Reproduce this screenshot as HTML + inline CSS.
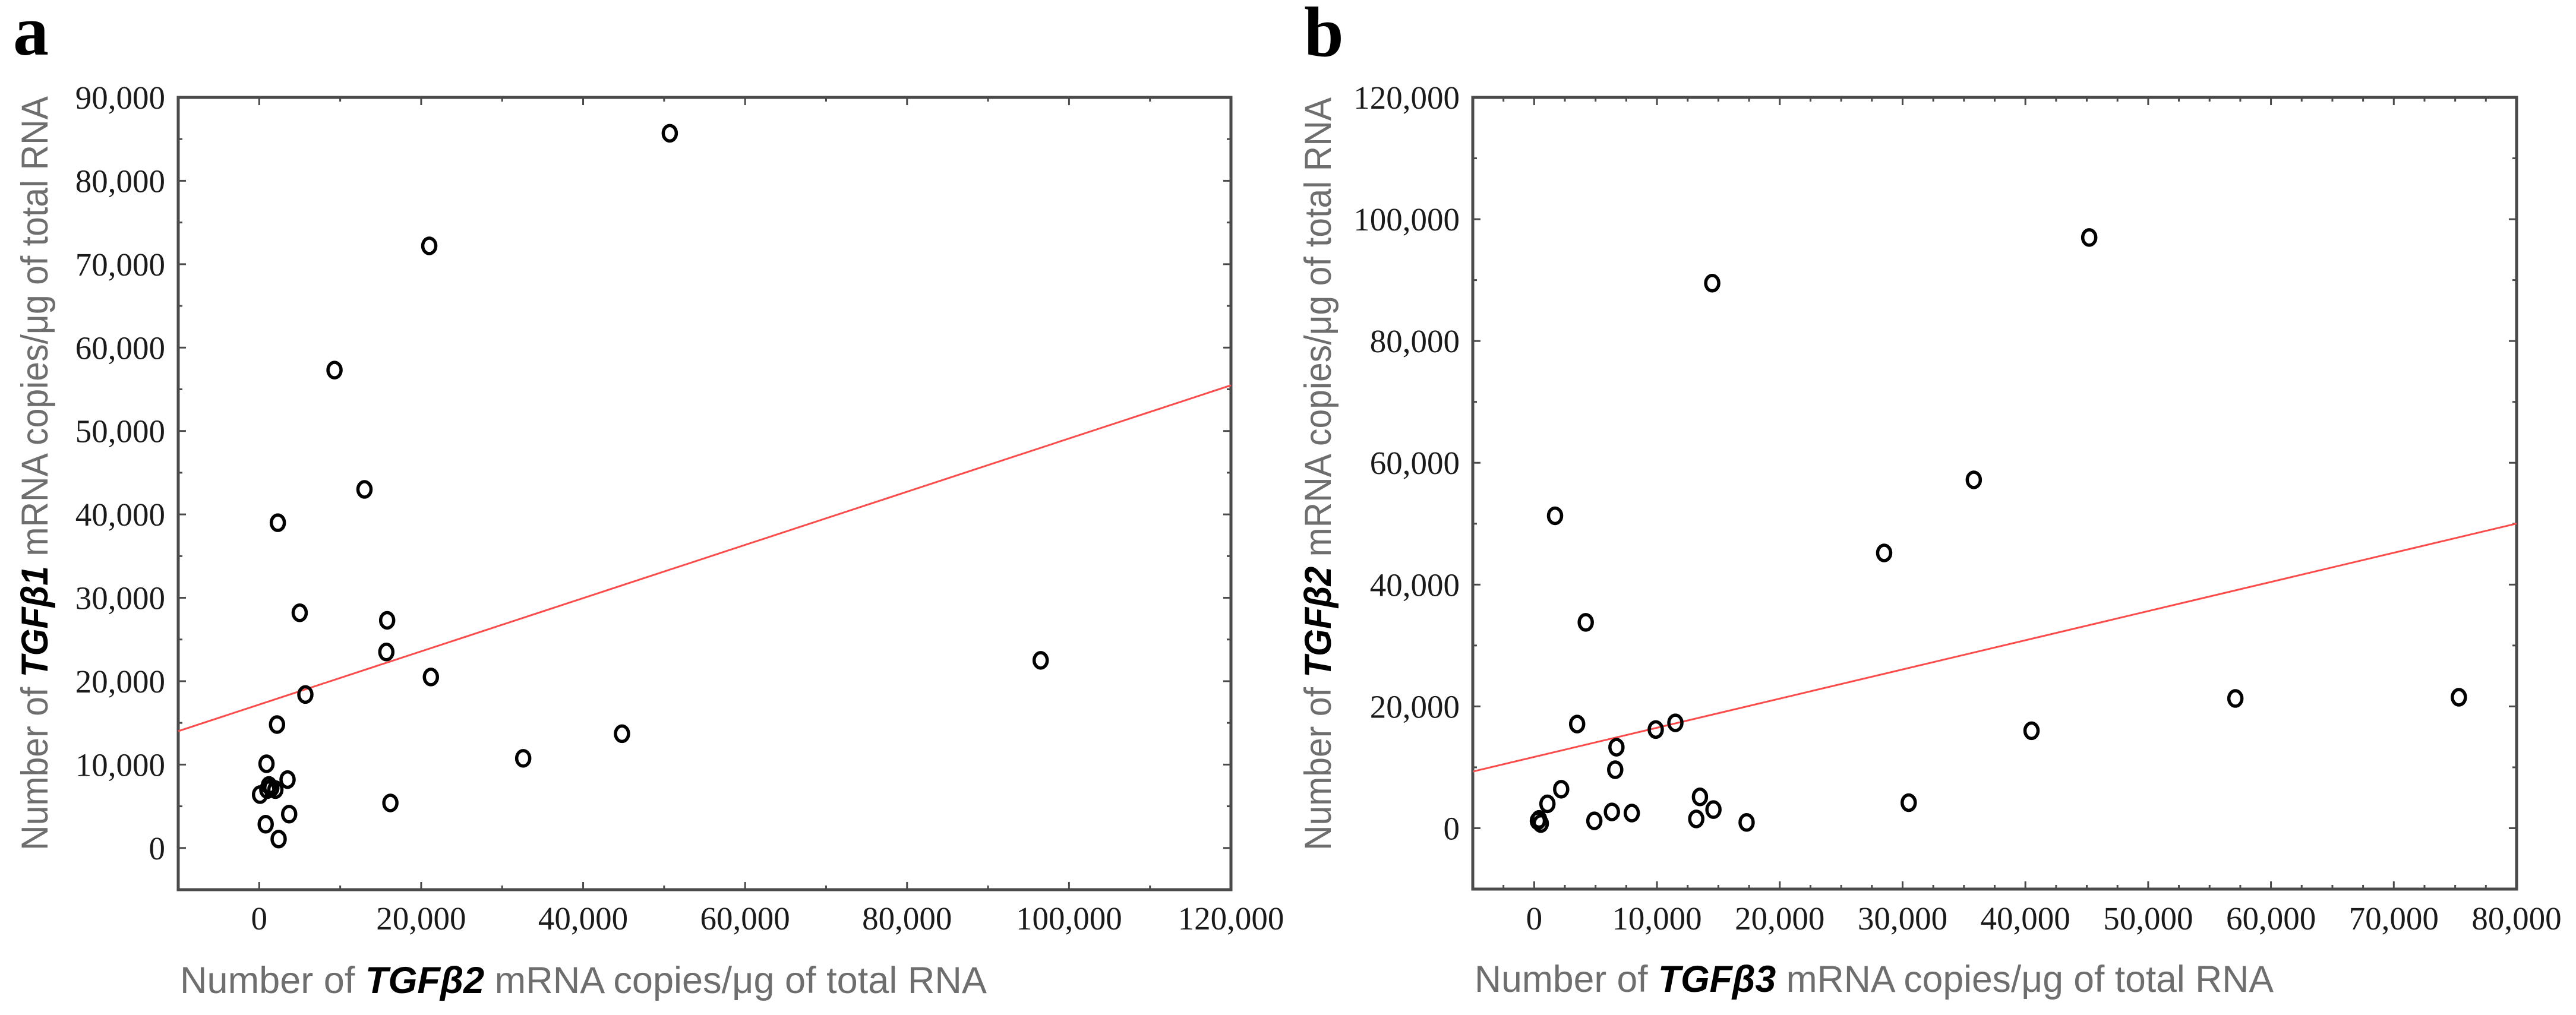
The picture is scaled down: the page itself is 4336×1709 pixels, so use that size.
<!DOCTYPE html>
<html><head><meta charset="utf-8"><style>
html,body{margin:0;padding:0;background:#fff;}
svg{display:block;}
.tick{font-family:"Liberation Serif",serif;font-size:55px;fill:#1a1a1a;}
.title{font-family:"Liberation Sans",sans-serif;font-size:63px;fill:#6e6e6e;}
.gene{font-weight:bold;font-style:italic;fill:#000;}
.panel{font-family:"Liberation Serif",serif;font-weight:bold;font-size:120px;fill:#000;}
</style></head><body>
<svg id="fig" width="4336" height="1709" viewBox="0 0 4336 1709" xmlns="http://www.w3.org/2000/svg">
<text class="panel" x="22" y="92">a</text>
<text class="panel" x="2195" y="94">b</text>
<g id="pa"></g>
<g id="pb"></g>
<text class="title" x="303" y="1672" textLength="1358" lengthAdjust="spacingAndGlyphs">Number of <tspan class="gene">TGFβ2</tspan> mRNA copies/μg of total RNA</text>
<text class="title" transform="translate(80,1432) rotate(-90)" x="0" y="0" textLength="1270" lengthAdjust="spacingAndGlyphs">Number of <tspan class="gene">TGFβ1</tspan> mRNA copies/μg of total RNA</text>
<text class="title" x="2482" y="1670" textLength="1345" lengthAdjust="spacingAndGlyphs">Number of <tspan class="gene">TGFβ3</tspan> mRNA copies/μg of total RNA</text>
<text class="title" transform="translate(2240,1432) rotate(-90)" x="0" y="0" textLength="1268" lengthAdjust="spacingAndGlyphs">Number of <tspan class="gene">TGFβ2</tspan> mRNA copies/μg of total RNA</text>
</svg>
<script>
// Panel a data
const aX = [50700,21000,9300,13000,2300,5000,15800,15700,96500,21200,5700,2200,32600,44800,16200,900,3500,100,1000,1500,2000,1200,3700,800,2400];
const aY = [85700,72200,57300,43000,39000,28200,27300,23500,22500,20500,18400,14800,10750,13700,5400,10100,8200,6400,7000,7200,7000,7500,4060,2850,1070];
const aXTicks = [0,20000,40000,60000,80000,100000,120000];
const aXTickLabels = ["0","20,000","40,000","60,000","80,000","100,000","120,000"];
const aYTicks = [0,10000,20000,30000,40000,50000,60000,70000,80000,90000];
const aYTickLabels = ["0","10,000","20,000","30,000","40,000","50,000","60,000","70,000","80,000","90,000"];
const aFit = [17200, 0.319];
// Panel b data
const bX = [45200,14500,35800,1700,28500,4200,3500,9900,11500,40500,57100,75300,6700,6600,2200,1080,400,540,300,4900,6330,7950,13500,13200,14600,17300,30500];
const bY = [97000,89500,57200,51300,45200,33800,17100,16200,17300,16000,21300,21500,13300,9600,6400,4000,1450,760,1200,1200,2670,2480,5140,1520,3050,950,4190];
const bXTicks = [0,10000,20000,30000,40000,50000,60000,70000,80000];
const bXTickLabels = ["0","10,000","20,000","30,000","40,000","50,000","60,000","70,000","80,000"];
const bYTicks = [0,20000,40000,60000,80000,100000,120000];
const bYTickLabels = ["0","20,000","40,000","60,000","80,000","100,000","120,000"];
const bFit = [11700, 0.479];

const NS = "http://www.w3.org/2000/svg";
function mk(tag, attrs, parent){const e=document.createElementNS(NS,tag);for(const k in attrs)e.setAttribute(k,attrs[k]);parent.appendChild(e);return e;}

function drawPanel(g, cfg, xs, ys, xt, xtl, yt, ytl, fit, id){
  const sx = v => cfg.x0 + (v-cfg.xmin)/(cfg.xmax-cfg.xmin)*(cfg.x1-cfg.x0);
  const sy = v => cfg.y1 - (v-cfg.ymin)/(cfg.ymax-cfg.ymin)*(cfg.y1-cfg.y0);
  const ax = {stroke:"#4a4a4a","stroke-width":3};
  for(let v=cfg.xmin; v<=cfg.xmax+1; v+=cfg.xminor){
    if(v<=cfg.xmin) continue;
    const X=sx(v), major = xt.includes(v);
    const t1=mk("line",Object.assign({x1:X,x2:X,y1:cfg.y1,y2:cfg.y1-(major?13:7)},ax),g);
    
    
    const t2=mk("line",Object.assign({x1:X,x2:X,y1:cfg.y0,y2:cfg.y0+(major?13:7)},ax),g);
    
    
  }
  for(let v=cfg.ymin; v<=cfg.ymax+1; v+=cfg.yminor){
    if(v<=cfg.ymin) continue;
    const Y=sy(v), major = yt.includes(v);
    const t1=mk("line",Object.assign({x1:cfg.x0,x2:cfg.x0+(major?13:7),y1:Y,y2:Y},ax),g);
    
    
    const t2=mk("line",Object.assign({x1:cfg.x1,x2:cfg.x1-(major?13:7),y1:Y,y2:Y},ax),g);
    
    
  }
  const frame=mk("rect",{x:cfg.x0,y:cfg.y0,width:cfg.x1-cfg.x0,height:cfg.y1-cfg.y0,fill:"none",stroke:"#4a4a4a","stroke-width":5},g);
  
  
  xt.forEach((v,i)=>{
    const t=mk("text",{x:sx(v),y:1565,"text-anchor":"middle",class:"tick"},g);
    t.textContent=xtl[i];
    
    
  });
  yt.forEach((v,i)=>{
    const t=mk("text",{x:cfg.x0-22,y:sy(v)+19,"text-anchor":"end",class:"tick"},g);
    t.textContent=ytl[i];
    
    
  });
  const ln=mk("line",{x1:sx(cfg.xmin),y1:sy(fit[0]+fit[1]*cfg.xmin),x2:sx(cfg.xmax),y2:sy(fit[0]+fit[1]*cfg.xmax),stroke:"#ff4a4a","stroke-width":3},g);
  
  
  xs.forEach((v,i)=>{
    const c=mk("ellipse",{cx:sx(v),cy:sy(ys[i]),rx:11,ry:13,fill:"none",stroke:"#000","stroke-width":5.5},g);
    
    
  });
}
drawPanel(document.getElementById("pa"),
  {x0:300,x1:2072,y0:164,y1:1498,xmin:-10000,xmax:120000,ymin:-5000,ymax:90000,xminor:10000,yminor:5000},
  aX,aY,aXTicks,aXTickLabels,aYTicks,aYTickLabels,aFit,"a");
drawPanel(document.getElementById("pb"),
  {x0:2479,x1:4236,y0:164,y1:1497,xmin:-5000,xmax:80000,ymin:-10000,ymax:120000,xminor:2500,yminor:10000},
  bX,bY,bXTicks,bXTickLabels,bYTicks,bYTickLabels,bFit,"b");
</script>
</body></html>
